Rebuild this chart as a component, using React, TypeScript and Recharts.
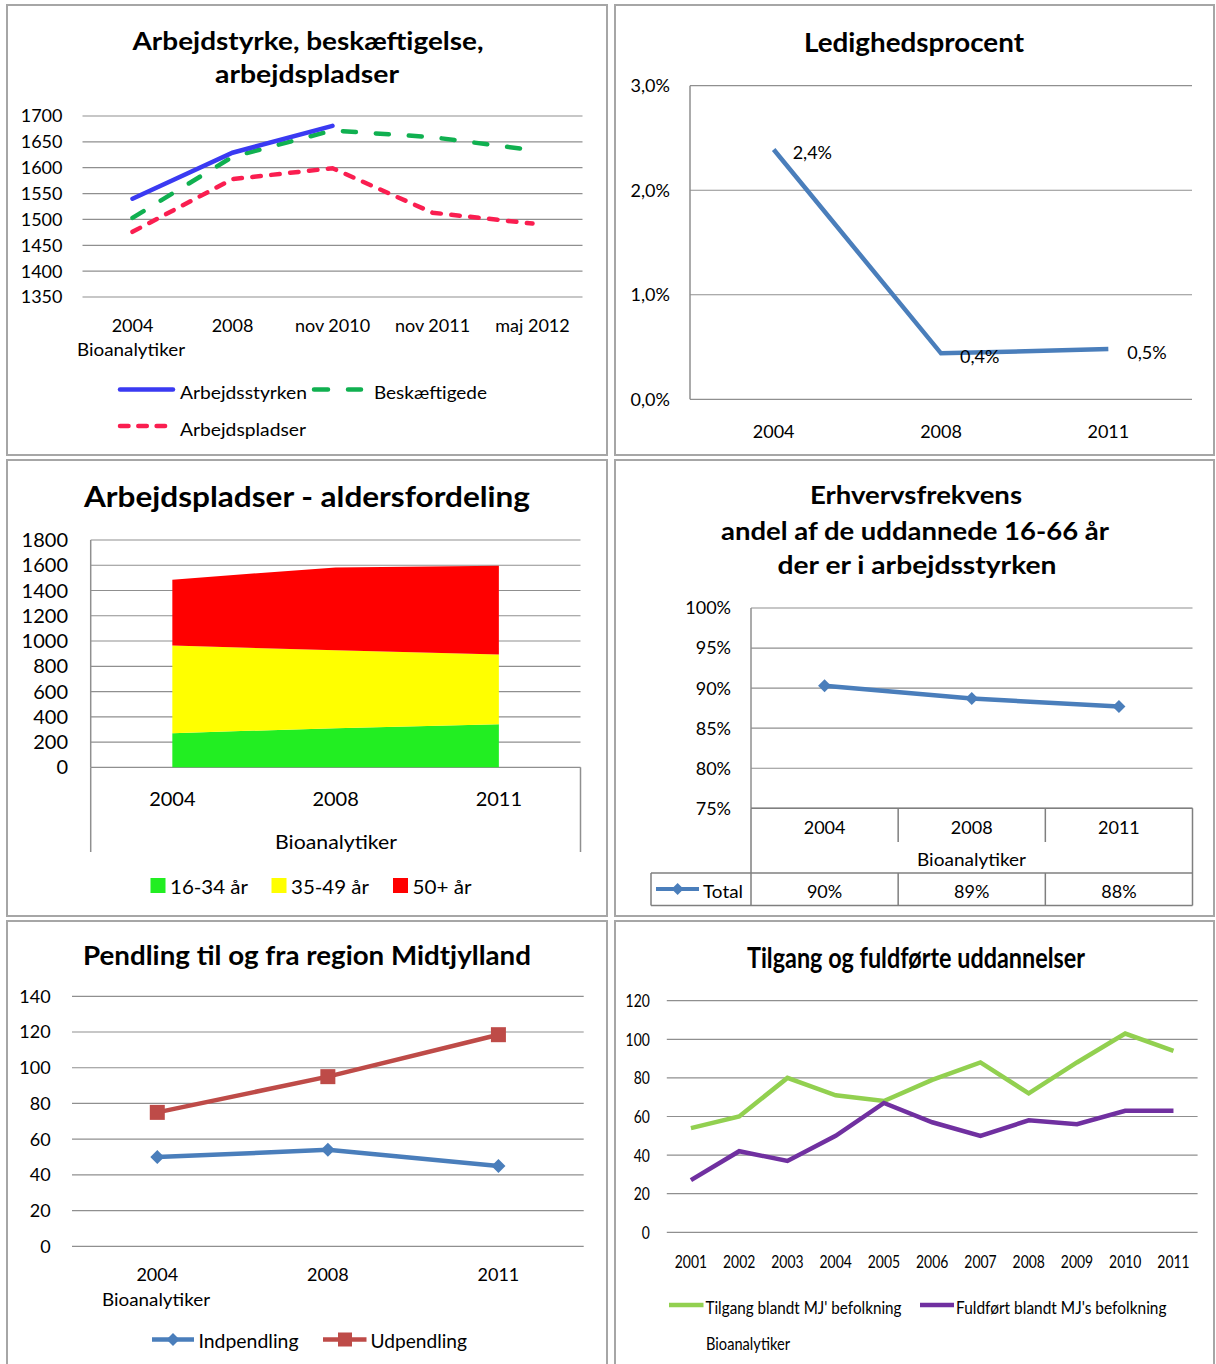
import React from 'react';
import { LineChart, Line, AreaChart, Area, XAxis, YAxis, CartesianGrid, LabelList } from 'recharts';

const FONT = 'Lato, "Noto Sans", sans-serif';
const GRID = '#8f8f8f';
const XH = 30;

// Arbejdsstyrke, beskæftigelse, arbejdspladser
const workCategories = ['2004', '2008', 'nov 2010', 'nov 2011', 'maj 2012'];
const arbejdsstyrken = [1540, 1629, 1681, null, null];
const beskaeftigede = [1503, 1621, 1672, 1659, 1634];
const arbejdspladser = [1476, 1578, 1599, 1513, 1492];
const workTicks = [1350, 1400, 1450, 1500, 1550, 1600, 1650, 1700];

// Ledighedsprocent
const ledYears = ['2004', '2008', '2011'];
const ledighed = [0.0239, 0.0044, 0.0048];
const ledTicks = [0, 0.01, 0.02, 0.03];

// Arbejdspladser - aldersfordeling
const ageYears = ['2004', '2008', '2011'];
const age16to34 = [270, 310, 340];
const age35to49 = [694, 617, 553];
const age50plus = [522, 656, 704];
const ageTicks = [0, 200, 400, 600, 800, 1000, 1200, 1400, 1600, 1800];
const ageLabels = ['16-34 år', '35-49 år', '50+ år'];

// Erhvervsfrekvens
const erhvYears = ['2004', '2008', '2011'];
const erhvTotal = [0.903, 0.887, 0.877];
const erhvTicks = [0.75, 0.8, 0.85, 0.9, 0.95, 1];

// Pendling
const pendYears = ['2004', '2008', '2011'];
const indpendling = [50, 54, 45];
const udpendling = [75, 95, 118.5];
const pendTicks = [0, 20, 40, 60, 80, 100, 120, 140];

// Tilgang og fuldførte uddannelser
const uddYears = ['2001', '2002', '2003', '2004', '2005', '2006', '2007', '2008', '2009', '2010', '2011'];
const tilgang = [54, 60, 80, 71, 68, 79, 88, 72, 88, 103, 94];
const fuldfort = [27, 42, 37, 50, 67, 57, 50, 58, 56, 63, 63];
const uddTicks = [0, 20, 40, 60, 80, 100, 120];

const C = {
  blue: '#3a3af2',
  green: '#10b050',
  pink: '#fa1e50',
  steel: '#4a7ebb',
  brick: '#be4b48',
  lime: '#92d050',
  purple: '#7030a0',
  a1: '#22ee22',
  a2: '#ffff00',
  a3: '#ff0000',
};

// plot frame in page coordinates -> chart props
function frame(ox: number, oy: number, w: number, h: number, L: number, T: number, R: number, B: number, n: number, hideX = false) {
  return {
    pos: { position: 'absolute', left: ox, top: oy } as React.CSSProperties,
    w,
    h,
    margin: { top: T - oy, right: ox + w - R, bottom: oy + h - B - (hideX ? 0 : XH), left: 0 },
    yw: L - ox,
    half: (R - L) / n / 2,
  };
}

const f1 = frame(7, 5, 600, 450, 82.5, 116, 582.5, 297, 5);
const f2 = frame(615, 5, 600, 450, 690, 85.7, 1192, 399.3, 3);
const f3 = frame(7, 460, 600, 456, 90.7, 540, 580.5, 767.3, 3);
const f4 = frame(615, 460, 600, 456, 751, 608, 1192.5, 808.3, 3, true);
const f5 = frame(7, 921, 600, 443, 72, 996.3, 583.7, 1246.3, 3);
const f6 = frame(615, 921, 600, 443, 666.8, 1000.7, 1197.6, 1232.3, 11);

function xTick(dy: number, size: number, sx = 1) {
  return (p: any) => (
    <text
      transform={`translate(${p.x},${p.y + dy}) scale(${sx},1)`}
      textAnchor="middle"
      dominantBaseline="central"
      fontSize={size}
      fill="#000"
    >
      {p.payload.value}
    </text>
  );
}

function yTickNarrow(size: number, sx: number) {
  return (p: any) => (
    <text
      transform={`translate(${p.x},${p.y}) scale(${sx},1)`}
      textAnchor="end"
      dominantBaseline="central"
      fontSize={size}
      fill="#000"
    >
      {p.payload.value}
    </text>
  );
}

function diamond(r: number, fill: string) {
  return (p: any) => (
    <path key={p.index} d={`M${p.cx},${p.cy - r}L${p.cx + r},${p.cy}L${p.cx},${p.cy + r}L${p.cx - r},${p.cy}Z`} fill={fill} />
  );
}

function square(s: number, fill: string) {
  return (p: any) => <rect key={p.index} x={p.cx - s / 2} y={p.cy - s / 2} width={s} height={s} fill={fill} />;
}

const pct1 = (v: number) => (v * 100).toFixed(1).replace('.', ',') + '%';
const pct0 = (v: number) => Math.round(v * 100) + '%';

function LedLabel(p: any) {
  return (
    <text x={p.x + p.width + 19} y={p.y + 3} fontSize={18} fill="#000" dominantBaseline="central">
      {pct1(p.value)}
    </text>
  );
}

function WorkChart() {
  const data = workCategories.map((c, i) => ({ c, a: arbejdsstyrken[i], b: beskaeftigede[i], p: arbejdspladser[i] }));
  return (
    <div style={f1.pos}>
      <LineChart width={f1.w} height={f1.h} data={data} margin={f1.margin}>
        <CartesianGrid vertical={false} stroke={GRID} strokeWidth={1.2} />
        <XAxis dataKey="c" height={XH} interval={0} axisLine={false} tickLine={false} tickSize={0} tickMargin={0}
          padding={{ left: f1.half, right: f1.half }} tick={xTick(28, 18)} />
        <YAxis type="number" width={f1.yw} domain={[1350, 1700]} ticks={workTicks} interval={0} axisLine={false}
          tickLine={false} tickSize={0} tickMargin={20} tick={{ fontSize: 18, fill: '#000' }} />
        <Line dataKey="p" stroke={C.pink} strokeWidth={4.5} strokeDasharray="8.5 10.5" strokeLinecap="round" dot={false} activeDot={false} isAnimationActive={false} />
        <Line dataKey="b" stroke={C.green} strokeWidth={4.5} strokeDasharray="13 20" strokeLinecap="round" dot={false} activeDot={false} isAnimationActive={false} />
        <Line dataKey="a" stroke={C.blue} strokeWidth={4.5} strokeLinecap="round" dot={false} activeDot={false} isAnimationActive={false} />
      </LineChart>
    </div>
  );
}

function LedChart() {
  const data = ledYears.map((c, i) => ({ c, v: ledighed[i] }));
  return (
    <div style={f2.pos}>
      <LineChart width={f2.w} height={f2.h} data={data} margin={f2.margin}>
        <CartesianGrid vertical={false} stroke={GRID} strokeWidth={1.2} />
        <XAxis dataKey="c" height={XH} interval={0} axisLine={false} tickLine={false} tickSize={0} tickMargin={0}
          padding={{ left: f2.half, right: f2.half }} tick={xTick(31.7, 18)} />
        <YAxis type="number" width={f2.yw} domain={[0, 0.03]} ticks={ledTicks} interval={0} axisLine={{ stroke: GRID, strokeWidth: 1.5 }}
          tickLine={false} tickSize={0} tickMargin={20} tickFormatter={pct1} tick={{ fontSize: 18, fill: '#000' }} />
        <Line dataKey="v" stroke={C.steel} strokeWidth={4.5} dot={false} activeDot={false} isAnimationActive={false}>
          <LabelList dataKey="v" content={LedLabel as any} />
        </Line>
      </LineChart>
    </div>
  );
}

function AgeChart() {
  const data = ageYears.map((c, i) => ({ c, a: age16to34[i], b: age35to49[i], d: age50plus[i] }));
  return (
    <div style={f3.pos}>
      <AreaChart width={f3.w} height={f3.h} data={data} margin={f3.margin}>
        <CartesianGrid vertical={false} stroke={GRID} strokeWidth={1.2} />
        <XAxis dataKey="c" height={XH} interval={0} axisLine={false} tickLine={false} tickSize={0} tickMargin={0}
          padding={{ left: f3.half, right: f3.half }} tick={xTick(30.7, 20)} />
        <YAxis type="number" width={f3.yw} domain={[0, 1800]} ticks={ageTicks} interval={0} axisLine={{ stroke: GRID, strokeWidth: 1.5 }}
          tickLine={false} tickSize={0} tickMargin={22.7} tick={{ fontSize: 20, fill: '#000' }} />
        <Area dataKey="a" stackId="s" type="linear" fill={C.a1} fillOpacity={1} stroke="none" isAnimationActive={false} />
        <Area dataKey="b" stackId="s" type="linear" fill={C.a2} fillOpacity={1} stroke="none" isAnimationActive={false} />
        <Area dataKey="d" stackId="s" type="linear" fill={C.a3} fillOpacity={1} stroke="none" isAnimationActive={false} />
      </AreaChart>
    </div>
  );
}

function ErhvChart() {
  const data = erhvYears.map((c, i) => ({ c, v: erhvTotal[i] }));
  return (
    <div style={f4.pos}>
      <LineChart width={f4.w} height={f4.h} data={data} margin={f4.margin}>
        <CartesianGrid vertical={false} stroke={GRID} strokeWidth={1.2} />
        <XAxis dataKey="c" hide padding={{ left: f4.half, right: f4.half }} />
        <YAxis type="number" width={f4.yw} domain={[0.75, 1]} ticks={erhvTicks} interval={0} axisLine={{ stroke: GRID, strokeWidth: 1.5 }}
          tickLine={false} tickSize={0} tickMargin={20} tickFormatter={pct0} tick={{ fontSize: 18, fill: '#000' }} />
        <Line dataKey="v" stroke={C.steel} strokeWidth={4.5} dot={diamond(6.5, C.steel)} activeDot={false} isAnimationActive={false} />
      </LineChart>
    </div>
  );
}

function PendChart() {
  const data = pendYears.map((c, i) => ({ c, ind: indpendling[i], ud: udpendling[i] }));
  return (
    <div style={f5.pos}>
      <LineChart width={f5.w} height={f5.h} data={data} margin={f5.margin}>
        <CartesianGrid vertical={false} stroke={GRID} strokeWidth={1.2} />
        <XAxis dataKey="c" height={XH} interval={0} axisLine={false} tickLine={false} tickSize={0} tickMargin={0}
          padding={{ left: f5.half, right: f5.half }} tick={xTick(27.7, 18)} />
        <YAxis type="number" width={f5.yw} domain={[0, 140]} ticks={pendTicks} interval={0} axisLine={false}
          tickLine={false} tickSize={0} tickMargin={21.4} tick={{ fontSize: 18, fill: '#000' }} />
        <Line dataKey="ind" stroke={C.steel} strokeWidth={4.5} dot={diamond(7, C.steel)} activeDot={false} isAnimationActive={false} />
        <Line dataKey="ud" stroke={C.brick} strokeWidth={4.5} dot={square(15, C.brick)} activeDot={false} isAnimationActive={false} />
      </LineChart>
    </div>
  );
}

function UddChart() {
  const data = uddYears.map((c, i) => ({ c, t: tilgang[i], f: fuldfort[i] }));
  return (
    <div style={f6.pos}>
      <LineChart width={f6.w} height={f6.h} data={data} margin={f6.margin}>
        <CartesianGrid vertical={false} stroke={GRID} strokeWidth={1.2} />
        <XAxis dataKey="c" height={XH} interval={0} axisLine={false} tickLine={false} tickSize={0} tickMargin={0}
          padding={{ left: f6.half, right: f6.half }} tick={xTick(29.4, 17, 0.82)} />
        <YAxis type="number" width={f6.yw} domain={[0, 120]} ticks={uddTicks} interval={0} axisLine={false}
          tickLine={false} tickSize={0} tickMargin={17} tick={yTickNarrow(17, 0.82)} />
        <Line dataKey="t" stroke={C.lime} strokeWidth={4.5} dot={false} activeDot={false} isAnimationActive={false} />
        <Line dataKey="f" stroke={C.purple} strokeWidth={4.5} dot={false} activeDot={false} isAnimationActive={false} />
      </LineChart>
    </div>
  );
}

function T(props: { x: number; y: number; s: string; size: number; bold?: boolean; anchor?: 'start' | 'middle' | 'end'; len?: number }) {
  const { x, y, s, size, bold, anchor = 'start', len } = props;
  return (
    <text x={x} y={y} fontSize={size} fontWeight={bold ? 700 : 400} textAnchor={anchor} dominantBaseline="central"
      fill="#000" textLength={len} lengthAdjust={len ? 'spacingAndGlyphs' : undefined}>
      {s}
    </text>
  );
}

function Overlay() {
  const tl = '#7f7f7f';
  // Erhvervsfrekvens data table, columns follow the plot bands
  const colW = (1192.5 - 751) / erhvYears.length;
  const cols = erhvYears.map((_, i) => 751 + i * colW);
  return (
    <svg width={1216} height={1364} style={{ position: 'absolute', left: 0, top: 0, pointerEvents: 'none' }} fontFamily={FONT}>
      {/* panel borders */}
      <g fill="none" stroke="#a6a6a6" strokeWidth={2}>
        <rect x={7} y={5} width={600} height={450} />
        <rect x={615} y={5} width={599} height={450} />
        <rect x={7} y={460} width={600} height={456} />
        <rect x={615} y={460} width={599} height={456} />
        <rect x={7} y={921} width={600} height={460} />
        <rect x={615} y={921} width={599} height={460} />
      </g>

      {/* titles */}
      <T x={308} y={40} s="Arbejdstyrke, beskæftigelse," size={25} bold anchor="middle" len={351} />
      <T x={307} y={73} s="arbejdspladser" size={25} bold anchor="middle" len={184} />
      <T x={914} y={42} s="Ledighedsprocent" size={26} bold anchor="middle" len={220} />
      <T x={307} y={496} s="Arbejdspladser - aldersfordeling" size={28} bold anchor="middle" len={446} />
      <T x={916} y={494} s="Erhvervsfrekvens" size={25} bold anchor="middle" len={212} />
      <T x={915} y={530} s="andel af de uddannede 16-66 år" size={25} bold anchor="middle" len={388} />
      <T x={917} y={564} s="der er i arbejdsstyrken" size={25} bold anchor="middle" len={279} />
      <T x={307} y={955} s="Pendling til og fra region Midtjylland" size={26} bold anchor="middle" len={448} />
      <T x={916} y={957} s="Tilgang og fuldførte uddannelser" size={28} bold anchor="middle" len={338} />

      {/* panel 1 legend */}
      <T x={131} y={349} s="Bioanalytiker" size={18} anchor="middle" len={108} />
      <line x1={120} y1={389.5} x2={173} y2={389.5} stroke={C.blue} strokeWidth={4.5} strokeLinecap="round" />
      <T x={180} y={391.5} s="Arbejdsstyrken" size={18} len={127} />
      <line x1={314} y1={389.5} x2={361} y2={389.5} stroke={C.green} strokeWidth={4.5} strokeDasharray="14 20" strokeLinecap="round" />
      <T x={374} y={391.5} s="Beskæftigede" size={18} len={113} />
      <line x1={120} y1={426} x2={166} y2={426} stroke={C.pink} strokeWidth={4.5} strokeDasharray="8.5 9.8" strokeLinecap="round" />
      <T x={180} y={429} s="Arbejdspladser" size={18} len={126} />

      {/* panel 3 extras */}
      <line x1={90.7} y1={767.3} x2={90.7} y2={852} stroke={GRID} strokeWidth={1.5} />
      <line x1={580.5} y1={767.3} x2={580.5} y2={852} stroke={GRID} strokeWidth={1.5} />
      <T x={336} y={840.5} s="Bioanalytiker" size={20} anchor="middle" len={122} />
      {ageLabels.map((s, i) => {
        const sx = [150.5, 271.5, 393][i];
        const tx = [170, 291, 412.5][i];
        const len = [78, 78, 59][i];
        return (
          <g key={s}>
            <rect x={sx} y={878} width={15} height={15} fill={[C.a1, C.a2, C.a3][i]} />
            <T x={tx} y={885.5} s={s} size={20} len={len} />
          </g>
        );
      })}

      {/* panel 4 data table */}
      <g stroke={tl} strokeWidth={1.5}>
        <line x1={cols[0]} y1={808.3} x2={cols[0]} y2={905.5} />
        <line x1={1192.5} y1={808.3} x2={1192.5} y2={905.5} />
        <line x1={751} y1={808.3} x2={1192.5} y2={808.3} />
        {cols.slice(1).map((x) => (
          <g key={x}>
            <line x1={x} y1={808.3} x2={x} y2={842} />
            <line x1={x} y1={873} x2={x} y2={905.5} />
          </g>
        ))}
        <line x1={651} y1={873} x2={1192.5} y2={873} />
        <line x1={651} y1={905.5} x2={1192.5} y2={905.5} />
        <line x1={651} y1={873} x2={651} y2={905.5} />
      </g>
      {erhvYears.map((y, i) => (
        <T key={y} x={cols[i] + colW / 2} y={826.5} s={y} size={18} anchor="middle" />
      ))}
      <T x={971.5} y={859} s="Bioanalytiker" size={18} anchor="middle" len={109} />
      {erhvTotal.map((v, i) => (
        <T key={i} x={cols[i] + colW / 2} y={890.5} s={pct0(v)} size={18} anchor="middle" />
      ))}
      <line x1={656} y1={889} x2={699} y2={889} stroke={C.steel} strokeWidth={4} />
      <path d="M677.6,883L683.6,889L677.6,895L671.6,889Z" fill={C.steel} />
      <T x={703} y={890.5} s="Total" size={18} len={40} />

      {/* panel 5 legend */}
      <T x={156} y={1299} s="Bioanalytiker" size={18} anchor="middle" len={108} />
      <line x1={152} y1={1339.5} x2={194} y2={1339.5} stroke={C.steel} strokeWidth={4.5} />
      <path d="M173,1333L179.5,1339.5L173,1346L166.5,1339.5Z" fill={C.steel} />
      <T x={198.5} y={1340.7} s="Indpendling" size={19} len={100} />
      <line x1={323} y1={1339.5} x2={366.5} y2={1339.5} stroke={C.brick} strokeWidth={4.5} />
      <rect x={338} y={1332.5} width={14} height={14} fill={C.brick} />
      <T x={370.5} y={1340.7} s="Udpendling" size={19} len={96.5} />

      {/* panel 6 legend */}
      <line x1={669} y1={1305} x2={703.5} y2={1305} stroke={C.lime} strokeWidth={4.5} />
      <T x={705.5} y={1306.5} s="Tilgang blandt MJ' befolkning" size={18} len={196} />
      <line x1={920} y1={1305} x2={954} y2={1305} stroke={C.purple} strokeWidth={4.5} />
      <T x={956} y={1306.5} s="Fuldført blandt MJ's befolkning" size={18} len={210.5} />
      <T x={706} y={1343} s="Bioanalytiker" size={18} len={84} />
    </svg>
  );
}

export default function App() {
  return (
    <div style={{ position: 'absolute', left: 0, top: 0, width: 1216, height: 1364, overflow: 'hidden', background: '#fff', fontFamily: FONT }}>
      <WorkChart />
      <LedChart />
      <AgeChart />
      <ErhvChart />
      <PendChart />
      <UddChart />
      <Overlay />
    </div>
  );
}
